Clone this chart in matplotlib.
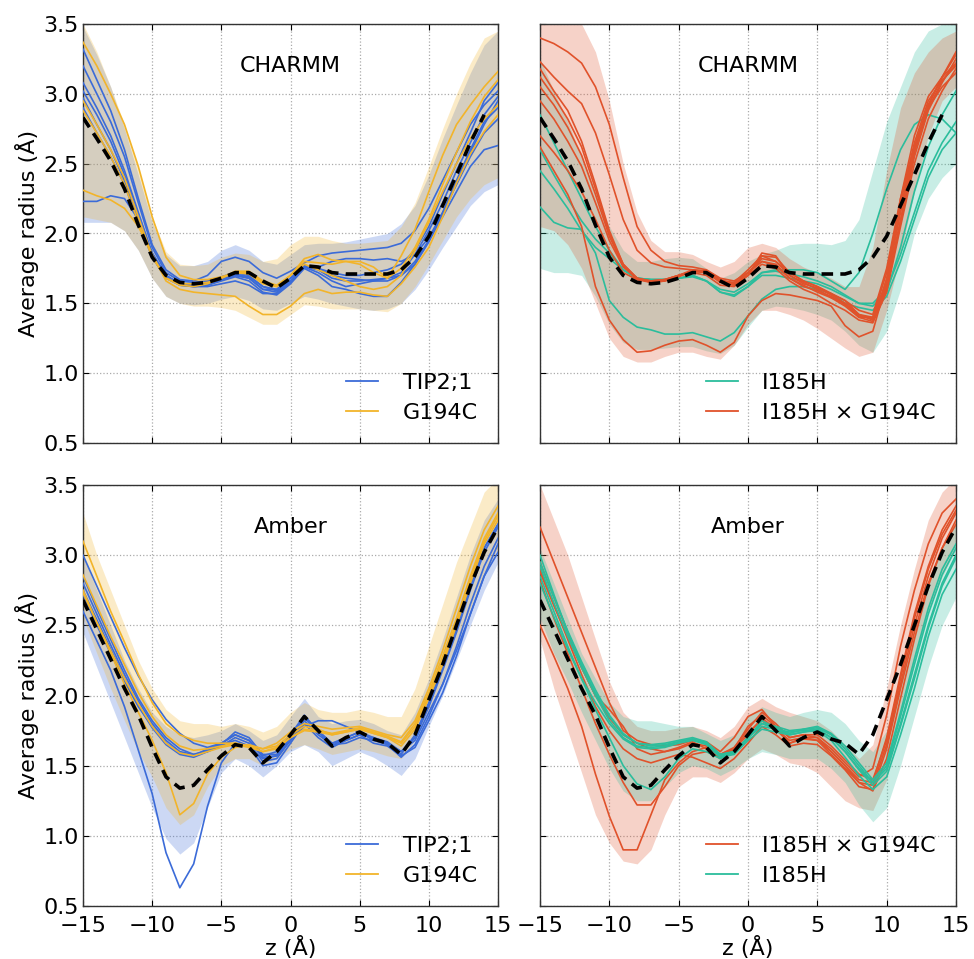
import numpy as np
import matplotlib
matplotlib.use('Agg')
import matplotlib.pyplot as plt
from matplotlib.lines import Line2D

nan = np.nan
Z = np.arange(-15, 16)
YTICKS = [0.5, 1.0, 1.5, 2.0, 2.5, 3.0, 3.5]
XTICKS = [-15, -10, -5, 0, 5, 10, 15]

BLUE, YELLOW, TEAL, ORANGE = '#3b6bd8', '#f2b42a', '#2bbd9c', '#e0522b'

# ---------------- CHARMM reference (dashed) ----------------
DASH_TOP = [2.83, 2.68, 2.52, 2.32, 2.06, 1.83, 1.70, 1.65, 1.64, 1.65,
            1.68, 1.72, 1.72, 1.66, 1.61, 1.68,
            1.77, 1.76, 1.72, 1.71, 1.71, 1.71, 1.71, 1.74, 1.83, 1.98,
            2.20, 2.42, 2.65, 2.85, nan]

# ---------------- top-left: TIP2;1 (blue), G194C (yellow) ----------------
TL_B1 = [3.32, 3.10, 2.88, 2.60, 2.25, 1.92, 1.74, 1.67, 1.66, 1.70, 1.80, 1.83, 1.80, 1.72, 1.68, 1.73,
         1.79, 1.84, 1.86, 1.87, 1.88, 1.89, 1.90, 1.93, 2.02, 2.18, 2.38, 2.58, 2.78, 2.92, 3.02]
TL_B2 = [3.20, 3.00, 2.80, 2.55, 2.22, 1.90, 1.72, 1.66, 1.65, 1.66, 1.69, 1.72, 1.70, 1.62, 1.60, 1.68,
         1.76, 1.75, 1.72, 1.70, 1.70, 1.72, 1.74, 1.78, 1.88, 2.05, 2.28, 2.50, 2.72, 2.95, 3.08]
TL_B3 = [3.08, 2.90, 2.70, 2.45, 2.15, 1.86, 1.70, 1.64, 1.63, 1.64, 1.67, 1.70, 1.68, 1.60, 1.58, 1.66,
         1.76, 1.74, 1.68, 1.66, 1.66, 1.67, 1.68, 1.72, 1.85, 2.02, 2.22, 2.45, 2.65, 2.85, 2.98]
TL_B4 = [2.97, 2.78, 2.60, 2.38, 2.10, 1.84, 1.69, 1.63, 1.62, 1.63, 1.66, 1.69, 1.66, 1.58, 1.56, 1.64,
         1.75, 1.70, 1.62, 1.60, 1.57, 1.55, 1.55, 1.65, 1.78, 1.95, 2.15, 2.38, 2.60, 2.80, 2.90]
TL_B5 = [2.23, 2.23, 2.27, 2.25, 2.10, 1.86, 1.70, 1.64, 1.62, 1.63, 1.67, 1.70, 1.68, 1.60, 1.60, 1.68,
         1.77, 1.75, 1.70, 1.68, 1.67, 1.66, 1.66, 1.70, 1.80, 1.95, 2.12, 2.30, 2.48, 2.60, 2.63]
TL_B6 = [3.02, 2.85, 2.66, 2.42, 2.14, 1.85, 1.69, 1.64, 1.63, 1.65, 1.68, 1.71, 1.69, 1.62, 1.59, 1.66,
         1.77, 1.76, 1.80, 1.82, 1.82, 1.81, 1.82, 1.80, 1.85, 1.97, 2.15, 2.35, 2.55, 2.72, 2.82]
TL_B7 = [2.90, 2.72, 2.55, 2.35, 2.08, 1.83, 1.68, 1.63, 1.62, 1.62, 1.64, 1.66, 1.63, 1.57, 1.57, 1.65,
         1.76, 1.72, 1.66, 1.62, 1.64, 1.66, 1.68, 1.70, 1.78, 1.94, 2.14, 2.36, 2.58, 2.78, 2.95]
TL_Y1 = [3.37, 3.20, 3.00, 2.78, 2.48, 2.12, 1.83, 1.70, 1.67, 1.67, 1.69, 1.72, 1.71, 1.64, 1.62, 1.70,
         1.82, 1.85, 1.81, 1.80, 1.80, 1.76, 1.68, 1.84, 2.03, 2.30, 2.56, 2.78, 2.92, 3.05, 3.16]
TL_Y2 = [2.31, 2.27, 2.24, 2.18, 2.05, 1.85, 1.66, 1.60, 1.58, 1.57, 1.56, 1.55, 1.48, 1.42, 1.42, 1.48,
         1.57, 1.60, 1.57, 1.58, 1.58, 1.56, 1.55, 1.64, 1.76, 1.90, 2.12, 2.36, 2.57, 2.73, 2.85]
TL_Y3 = [2.95, 2.78, 2.60, 2.40, 2.12, 1.84, 1.68, 1.63, 1.62, 1.64, 1.68, 1.72, 1.72, 1.65, 1.62, 1.70,
         1.80, 1.79, 1.78, 1.80, 1.78, 1.72, 1.68, 1.75, 1.90, 2.10, 2.35, 2.58, 2.80, 2.98, 3.10]
TL_Y4 = [2.88, 2.72, 2.55, 2.35, 2.08, 1.83, 1.68, 1.64, 1.64, 1.65, 1.68, 1.73, 1.73, 1.66, 1.63, 1.70,
         1.78, 1.74, 1.70, 1.66, 1.62, 1.60, 1.62, 1.70, 1.88, 2.08, 2.30, 2.50, 2.68, 2.82, 2.92]
TL_BLU_LO = [2.08, 2.08, 2.08, 2.02, 1.88, 1.68, 1.55, 1.50, 1.49, 1.50, 1.53, 1.55, 1.52, 1.46, 1.45, 1.50,
             1.55, 1.53, 1.50, 1.48, 1.46, 1.45, 1.46, 1.50, 1.60, 1.74, 1.90, 2.05, 2.20, 2.30, 2.35]
TL_BLU_HI = [3.48, 3.28, 3.05, 2.75, 2.42, 2.08, 1.85, 1.77, 1.77, 1.80, 1.88, 1.92, 1.88, 1.80, 1.78, 1.85,
             1.92, 1.93, 1.93, 1.94, 1.96, 1.98, 2.00, 2.07, 2.20, 2.42, 2.68, 2.92, 3.15, 3.35, 3.45]
TL_YEL_LO = [2.12, 2.10, 2.08, 2.02, 1.88, 1.68, 1.55, 1.50, 1.48, 1.48, 1.47, 1.45, 1.40, 1.35, 1.35, 1.42,
             1.49, 1.48, 1.46, 1.46, 1.46, 1.45, 1.44, 1.50, 1.62, 1.78, 1.95, 2.12, 2.25, 2.35, 2.40]
TL_YEL_HI = [3.50, 3.30, 3.05, 2.78, 2.47, 2.12, 1.87, 1.78, 1.77, 1.78, 1.83, 1.86, 1.85, 1.80, 1.82, 1.92,
             1.98, 1.98, 1.95, 1.93, 1.93, 1.94, 1.95, 2.05, 2.22, 2.48, 2.75, 3.00, 3.22, 3.40, 3.45]

# ---------------- top-right: I185H (teal), I185H x G194C (orange) ----------------
TR_O1 = [3.40, 3.36, 3.30, 3.22, 3.05, 2.78, 2.40, 2.05, 1.88, 1.80, 1.77, 1.76, 1.74, 1.68, 1.66, 1.72,
         1.82, 1.80, 1.72, 1.66, 1.62, 1.57, 1.52, 1.45, 1.42, 1.75, 2.25, 2.70, 2.98, 3.12, 3.22]
TR_O2 = [3.23, 3.12, 3.02, 2.93, 2.72, 2.42, 2.10, 1.88, 1.79, 1.76, 1.75, 1.74, 1.73, 1.67, 1.64, 1.70,
         1.84, 1.83, 1.72, 1.66, 1.62, 1.57, 1.52, 1.42, 1.40, 1.72, 2.22, 2.65, 2.95, 3.10, 3.20]
TR_O3 = [3.18, 3.02, 2.88, 2.66, 2.35, 2.02, 1.78, 1.68, 1.65, 1.66, 1.70, 1.73, 1.73, 1.66, 1.63, 1.70,
         1.86, 1.84, 1.70, 1.65, 1.60, 1.54, 1.48, 1.40, 1.40, 1.65, 2.15, 2.60, 2.92, 3.12, 3.28]
TR_O4 = [2.62, 2.45, 2.28, 2.05, 1.62, 1.38, 1.24, 1.15, 1.16, 1.20, 1.23, 1.24, 1.20, 1.15, 1.22, 1.41,
         1.52, 1.57, 1.56, 1.54, 1.52, 1.48, 1.34, 1.26, 1.30, 1.65, 2.25, 2.62, 2.90, 3.09, 3.21]
TR_O5 = [3.12, 2.98, 2.82, 2.62, 2.32, 2.00, 1.78, 1.68, 1.66, 1.67, 1.70, 1.73, 1.72, 1.65, 1.63, 1.72,
         1.80, 1.78, 1.68, 1.63, 1.58, 1.54, 1.50, 1.42, 1.38, 1.60, 2.08, 2.55, 2.88, 3.08, 3.25]
TR_O6 = [2.95, 2.82, 2.66, 2.48, 2.22, 1.95, 1.76, 1.68, 1.66, 1.67, 1.70, 1.72, 1.70, 1.63, 1.62, 1.70,
         1.78, 1.75, 1.66, 1.60, 1.56, 1.50, 1.45, 1.38, 1.36, 1.58, 2.05, 2.50, 2.82, 3.02, 3.18]
TR_O7 = [3.05, 2.92, 2.76, 2.56, 2.28, 1.98, 1.77, 1.67, 1.65, 1.66, 1.69, 1.73, 1.72, 1.66, 1.65, 1.74,
         1.84, 1.80, 1.70, 1.64, 1.61, 1.56, 1.50, 1.40, 1.37, 1.68, 2.18, 2.62, 2.92, 3.12, 3.30]
TR_O8 = [2.70, 2.58, 2.45, 2.30, 2.10, 1.88, 1.72, 1.67, 1.66, 1.67, 1.70, 1.74, 1.73, 1.66, 1.64, 1.72,
         1.80, 1.77, 1.68, 1.62, 1.59, 1.55, 1.49, 1.41, 1.39, 1.62, 2.10, 2.58, 2.90, 3.05, 3.15]
TR_T1 = [2.60, 2.42, 2.25, 2.09, 1.96, 1.86, 1.74, 1.68, 1.67, 1.67, 1.68, 1.70, 1.66, 1.58, 1.56, 1.62,
         1.72, 1.73, 1.71, 1.69, 1.66, 1.62, 1.56, 1.50, 1.50, 1.60, 1.85, 2.15, 2.45, 2.65, 2.80]
TR_T2 = [2.85, 2.65, 2.45, 2.25, 2.05, 1.88, 1.74, 1.68, 1.67, 1.67, 1.68, 1.70, 1.66, 1.60, 1.58, 1.64,
         1.72, 1.74, 1.74, 1.74, 1.72, 1.66, 1.60, 1.72, 2.00, 2.32, 2.60, 2.78, 2.85, 2.82, 2.72]
TR_T3 = [2.45, 2.32, 2.18, 2.02, 1.90, 1.82, 1.74, 1.68, 1.67, 1.67, 1.68, 1.69, 1.66, 1.58, 1.55, 1.62,
         1.70, 1.70, 1.68, 1.66, 1.64, 1.60, 1.55, 1.50, 1.48, 1.58, 1.90, 2.30, 2.62, 2.85, 3.02]
TR_T4 = [2.19, 2.08, 2.04, 2.03, 1.86, 1.52, 1.40, 1.33, 1.31, 1.28, 1.28, 1.29, 1.26, 1.23, 1.29, 1.41,
         1.53, 1.60, 1.62, 1.62, 1.60, 1.57, 1.50, 1.47, 1.45, 1.55, 1.80, 2.10, 2.40, 2.60, 2.72]
TR_ORA_HI = [3.50, 3.50, 3.50, 3.50, 3.30, 2.95, 2.50, 2.15, 1.95, 1.87, 1.87, 1.85, 1.80, 1.76, 1.80, 1.90,
             1.93, 1.90, 1.82, 1.76, 1.72, 1.68, 1.62, 1.62, 1.90, 2.45, 2.90, 3.15, 3.30, 3.40, 3.45]
TR_ORA_LO = [2.05, 2.02, 1.92, 1.75, 1.50, 1.25, 1.12, 1.08, 1.08, 1.12, 1.15, 1.15, 1.12, 1.10, 1.20, 1.35,
             1.45, 1.45, 1.42, 1.38, 1.32, 1.25, 1.18, 1.12, 1.15, 1.45, 1.85, 2.30, 2.70, 2.95, 3.05]
TR_TEA_HI = [3.25, 3.02, 2.80, 2.55, 2.30, 2.05, 1.88, 1.80, 1.80, 1.82, 1.83, 1.82, 1.75, 1.68, 1.72, 1.80,
             1.85, 1.88, 1.92, 1.93, 1.93, 1.92, 1.95, 2.10, 2.45, 2.80, 3.05, 3.30, 3.45, 3.50, 3.50]
TR_TEA_LO = [1.75, 1.72, 1.72, 1.70, 1.55, 1.35, 1.22, 1.17, 1.17, 1.18, 1.19, 1.19, 1.16, 1.14, 1.20, 1.33,
             1.45, 1.48, 1.47, 1.45, 1.42, 1.38, 1.30, 1.20, 1.15, 1.30, 1.60, 2.00, 2.25, 2.40, 2.50]

# ---------------- Amber reference (dashed) ----------------
DASH_BOT = [2.68, 2.47, 2.26, 2.05, 1.86, 1.63, 1.42, 1.34, 1.36, 1.47, 1.57, 1.65, 1.63, 1.52, 1.60, 1.72,
            1.85, 1.75, 1.64, 1.70, 1.74, 1.69, 1.66, 1.58, 1.72, 1.97, 2.22, 2.50, 2.78, 3.02, 3.20]

# ---------------- bottom-left: TIP2;1 (blue), G194C (yellow) ----------------
BL_B1 = [2.60, 2.39, 2.18, 1.92, 1.61, 1.30, 0.88, 0.63, 0.80, 1.21, 1.52, 1.66, 1.64, 1.55, 1.57, 1.68,
         1.78, 1.82, 1.82, 1.78, 1.74, 1.70, 1.66, 1.60, 1.68, 1.88, 2.08, 2.32, 2.58, 2.85, 3.02]
BL_B2 = [3.00, 2.78, 2.56, 2.34, 2.14, 1.97, 1.83, 1.73, 1.66, 1.63, 1.66, 1.72, 1.68, 1.57, 1.60, 1.72,
         1.86, 1.74, 1.64, 1.70, 1.74, 1.68, 1.66, 1.58, 1.72, 1.95, 2.20, 2.48, 2.78, 3.05, 3.22]
BL_B3 = [2.80, 2.58, 2.36, 2.15, 1.96, 1.80, 1.68, 1.60, 1.58, 1.60, 1.65, 1.74, 1.70, 1.58, 1.58, 1.70,
         1.84, 1.74, 1.66, 1.68, 1.72, 1.70, 1.67, 1.60, 1.70, 1.92, 2.18, 2.45, 2.75, 3.02, 3.20]
BL_B4 = [2.75, 2.54, 2.33, 2.12, 1.93, 1.77, 1.65, 1.58, 1.56, 1.60, 1.64, 1.70, 1.66, 1.53, 1.55, 1.68,
         1.82, 1.72, 1.65, 1.66, 1.70, 1.68, 1.65, 1.56, 1.65, 1.85, 2.08, 2.35, 2.65, 2.92, 3.12]
BL_B5 = [2.72, 2.50, 2.30, 2.10, 1.92, 1.78, 1.66, 1.59, 1.57, 1.62, 1.65, 1.68, 1.64, 1.50, 1.52, 1.66,
         1.80, 1.70, 1.63, 1.68, 1.72, 1.66, 1.64, 1.57, 1.63, 1.82, 2.02, 2.28, 2.58, 2.85, 3.08]
BL_B6 = [2.85, 2.62, 2.40, 2.18, 1.98, 1.82, 1.70, 1.62, 1.58, 1.61, 1.66, 1.72, 1.68, 1.56, 1.57, 1.70,
         1.85, 1.75, 1.66, 1.70, 1.74, 1.69, 1.66, 1.60, 1.70, 1.94, 2.20, 2.48, 2.78, 3.05, 3.22]
BL_Y1 = [2.75, 2.52, 2.30, 2.08, 1.88, 1.68, 1.45, 1.15, 1.23, 1.44, 1.56, 1.63, 1.65, 1.62, 1.64, 1.72,
         1.78, 1.76, 1.72, 1.74, 1.76, 1.73, 1.70, 1.66, 1.78, 2.00, 2.25, 2.52, 2.82, 3.10, 3.28]
BL_Y2 = [3.10, 2.85, 2.60, 2.38, 2.15, 1.95, 1.80, 1.72, 1.68, 1.66, 1.66, 1.66, 1.64, 1.62, 1.66, 1.74,
         1.80, 1.78, 1.76, 1.77, 1.78, 1.75, 1.72, 1.70, 1.82, 2.05, 2.32, 2.62, 2.92, 3.18, 3.35]
BL_Y3 = [2.86, 2.64, 2.42, 2.22, 2.02, 1.85, 1.72, 1.64, 1.61, 1.62, 1.64, 1.66, 1.64, 1.60, 1.62, 1.70,
         1.76, 1.75, 1.73, 1.75, 1.77, 1.74, 1.71, 1.67, 1.80, 2.02, 2.28, 2.55, 2.85, 3.12, 3.30]
BL_Y4 = [2.73, 2.52, 2.32, 2.12, 1.94, 1.78, 1.66, 1.59, 1.57, 1.60, 1.63, 1.65, 1.63, 1.60, 1.63, 1.70,
         1.75, 1.74, 1.72, 1.74, 1.76, 1.73, 1.70, 1.64, 1.76, 1.98, 2.22, 2.50, 2.80, 3.08, 3.25]
BL_BLU_HI = [3.00, 2.75, 2.50, 2.25, 2.05, 1.88, 1.78, 1.72, 1.70, 1.72, 1.75, 1.80, 1.75, 1.68, 1.72, 1.85,
             1.98, 1.85, 1.80, 1.82, 1.83, 1.80, 1.75, 1.72, 1.88, 2.12, 2.40, 2.70, 3.00, 3.25, 3.40]
BL_BLU_LO = [2.45, 2.20, 1.95, 1.70, 1.45, 1.20, 0.98, 0.87, 0.95, 1.20, 1.45, 1.55, 1.50, 1.42, 1.50, 1.60,
             1.65, 1.60, 1.50, 1.55, 1.60, 1.56, 1.50, 1.43, 1.55, 1.78, 2.00, 2.25, 2.50, 2.75, 2.95]
BL_YEL_HI = [3.30, 3.00, 2.75, 2.50, 2.25, 2.05, 1.90, 1.82, 1.80, 1.80, 1.78, 1.80, 1.78, 1.74, 1.78, 1.88,
             1.95, 1.90, 1.88, 1.88, 1.90, 1.88, 1.85, 1.85, 2.05, 2.35, 2.65, 2.95, 3.20, 3.45, 3.55]
BL_YEL_LO = [2.55, 2.30, 2.05, 1.82, 1.60, 1.42, 1.20, 1.08, 1.15, 1.35, 1.50, 1.55, 1.55, 1.50, 1.55, 1.62,
             1.65, 1.62, 1.58, 1.60, 1.62, 1.60, 1.57, 1.55, 1.68, 1.88, 2.10, 2.35, 2.62, 2.85, 3.05]

# ---------------- bottom-right: I185H x G194C (orange), I185H (teal) ----------------
BR_O1 = [2.50, 2.28, 2.05, 1.78, 1.44, 1.14, 0.90, 0.90, 1.15, 1.40, 1.52, 1.60, 1.63, 1.58, 1.62, 1.74,
         1.82, 1.76, 1.68, 1.70, 1.68, 1.58, 1.48, 1.38, 1.32, 1.55, 1.98, 2.40, 2.78, 3.05, 3.25]
BR_O2 = [2.82, 2.55, 2.30, 2.05, 1.80, 1.58, 1.38, 1.22, 1.22, 1.35, 1.50, 1.58, 1.60, 1.56, 1.62, 1.78,
         1.86, 1.78, 1.66, 1.70, 1.70, 1.60, 1.50, 1.38, 1.36, 1.65, 2.08, 2.50, 2.85, 3.12, 3.30]
BR_O3 = [3.20, 2.95, 2.70, 2.45, 2.20, 1.95, 1.75, 1.68, 1.65, 1.64, 1.65, 1.68, 1.67, 1.60, 1.70, 1.85,
         1.90, 1.78, 1.70, 1.72, 1.70, 1.62, 1.52, 1.42, 1.48, 1.86, 2.35, 2.75, 3.08, 3.30, 3.40]
BR_O4 = [2.95, 2.70, 2.45, 2.20, 2.00, 1.90, 1.78, 1.62, 1.58, 1.60, 1.63, 1.67, 1.62, 1.55, 1.62, 1.72,
         1.84, 1.76, 1.66, 1.69, 1.68, 1.60, 1.50, 1.40, 1.38, 1.70, 2.15, 2.58, 2.92, 3.18, 3.35]
BR_O5 = [2.90, 2.65, 2.40, 2.15, 1.92, 1.75, 1.62, 1.55, 1.52, 1.55, 1.58, 1.56, 1.52, 1.48, 1.55, 1.66,
         1.78, 1.72, 1.64, 1.66, 1.65, 1.57, 1.47, 1.35, 1.33, 1.62, 2.05, 2.45, 2.80, 3.05, 3.22]
BR_O6 = [2.88, 2.64, 2.42, 2.20, 2.00, 1.84, 1.72, 1.66, 1.62, 1.60, 1.62, 1.66, 1.64, 1.58, 1.63, 1.76,
         1.88, 1.80, 1.70, 1.72, 1.72, 1.64, 1.54, 1.44, 1.40, 1.68, 2.12, 2.55, 2.90, 3.15, 3.32]
BR_T1 = [2.85, 2.60, 2.35, 2.12, 1.90, 1.70, 1.50, 1.37, 1.33, 1.42, 1.55, 1.62, 1.60, 1.55, 1.60, 1.70,
         1.80, 1.76, 1.72, 1.74, 1.76, 1.70, 1.60, 1.48, 1.38, 1.48, 1.80, 2.15, 2.50, 2.80, 3.00]
BR_T2 = [3.00, 2.72, 2.45, 2.22, 2.02, 1.85, 1.72, 1.66, 1.65, 1.66, 1.68, 1.70, 1.67, 1.58, 1.60, 1.70,
         1.80, 1.78, 1.75, 1.76, 1.77, 1.72, 1.62, 1.50, 1.38, 1.50, 1.85, 2.22, 2.58, 2.86, 3.05]
BR_T3 = [2.92, 2.66, 2.42, 2.20, 2.00, 1.82, 1.70, 1.64, 1.63, 1.64, 1.67, 1.69, 1.66, 1.57, 1.59, 1.70,
         1.78, 1.76, 1.74, 1.75, 1.76, 1.70, 1.60, 1.47, 1.36, 1.46, 1.78, 2.12, 2.48, 2.78, 2.98]
BR_T4 = [2.80, 2.56, 2.33, 2.12, 1.95, 1.80, 1.69, 1.63, 1.62, 1.63, 1.66, 1.68, 1.65, 1.56, 1.58, 1.68,
         1.76, 1.74, 1.72, 1.74, 1.75, 1.68, 1.56, 1.43, 1.33, 1.42, 1.72, 2.05, 2.42, 2.72, 2.90]
BR_T5 = [2.95, 2.70, 2.46, 2.24, 2.04, 1.86, 1.73, 1.66, 1.64, 1.65, 1.67, 1.69, 1.66, 1.58, 1.60, 1.70,
         1.82, 1.77, 1.73, 1.76, 1.78, 1.73, 1.64, 1.52, 1.40, 1.52, 1.88, 2.26, 2.62, 2.90, 3.08]
BR_ORA_HI = [3.50, 3.25, 3.00, 2.70, 2.40, 2.10, 1.88, 1.78, 1.75, 1.75, 1.77, 1.78, 1.75, 1.70, 1.78, 1.92,
             1.98, 1.92, 1.88, 1.85, 1.82, 1.75, 1.65, 1.55, 1.65, 2.05, 2.50, 2.90, 3.25, 3.45, 3.55]
BR_ORA_LO = [2.40, 2.05, 1.75, 1.45, 1.15, 0.95, 0.82, 0.80, 0.90, 1.15, 1.35, 1.42, 1.42, 1.38, 1.45, 1.55,
             1.62, 1.58, 1.52, 1.50, 1.45, 1.35, 1.25, 1.20, 1.18, 1.40, 1.85, 2.25, 2.60, 2.85, 3.05]
BR_TEA_HI = [3.05, 2.80, 2.55, 2.30, 2.12, 1.95, 1.85, 1.82, 1.82, 1.80, 1.78, 1.78, 1.73, 1.68, 1.72, 1.85,
             1.92, 1.88, 1.85, 1.88, 1.90, 1.88, 1.80, 1.68, 1.60, 1.75, 2.10, 2.45, 2.80, 3.05, 3.25]
BR_TEA_LO = [2.55, 2.30, 2.10, 1.88, 1.68, 1.48, 1.32, 1.25, 1.25, 1.35, 1.45, 1.50, 1.48, 1.43, 1.48, 1.55,
             1.60, 1.58, 1.55, 1.55, 1.55, 1.48, 1.38, 1.22, 1.10, 1.20, 1.50, 1.85, 2.20, 2.50, 2.70]

FS = 16

fig = plt.figure(figsize=(9.74, 9.59), dpi=100)
W, H = 974.0, 959.0
ax_tl = fig.add_axes([83 / W, 1 - 443 / H, 415 / W, 419 / H])
ax_tr = fig.add_axes([540 / W, 1 - 443 / H, 416 / W, 419 / H])
ax_bl = fig.add_axes([83 / W, 1 - 906 / H, 415 / W, 421 / H])
ax_br = fig.add_axes([540 / W, 1 - 906 / H, 416 / W, 421 / H])


def draw(ax, groups, dashed, title, legend_items, left, bottom):
    for color, lines, lo, hi in groups:
        ax.fill_between(Z, lo, hi, color=color, alpha=0.26, lw=0, zorder=1)
    for color, lines, lo, hi in groups:
        for ln in lines:
            ax.plot(Z, ln, color=color, lw=1.2, zorder=3)
    ax.plot(Z, dashed, color='black', lw=2.6, dashes=(3.2, 2.0), zorder=5)
    ax.text(0, 3.2, title, ha='center', va='center', fontsize=FS)
    ax.set_xlim(-15, 15)
    ax.set_ylim(0.5, 3.5)
    ax.set_xticks(XTICKS)
    ax.set_yticks(YTICKS)
    ax.grid(True, linestyle=':', color='#aaaaaa', lw=0.9, zorder=0)
    ax.set_axisbelow(True)
    ax.tick_params(direction='in', length=4, top=True, right=True, labelsize=FS)
    ax.tick_params(axis='y', pad=3)
    ax.tick_params(axis='x', pad=7)
    for s in ax.spines.values():
        s.set_color('#333333')
        s.set_linewidth(1.0)
    if not left:
        ax.tick_params(labelleft=False)
    else:
        ax.set_ylabel('Average radius (Å)', fontsize=FS, labelpad=3)
    if not bottom:
        ax.tick_params(labelbottom=False)
    else:
        ax.set_xlabel('z (Å)', fontsize=FS, labelpad=0)
    handles = [Line2D([0], [0], color=c, lw=1.3) for c, _ in legend_items]
    labels = [l for _, l in legend_items]
    ax.legend(handles, labels, loc='lower right', frameon=False, fontsize=FS,
              handlelength=1.45, handletextpad=1.1, labelspacing=0.45,
              borderaxespad=0.5)


draw(ax_tl,
     [(BLUE, [TL_B1, TL_B2, TL_B3, TL_B4, TL_B5, TL_B6, TL_B7], TL_BLU_LO, TL_BLU_HI),
      (YELLOW, [TL_Y1, TL_Y2, TL_Y3, TL_Y4], TL_YEL_LO, TL_YEL_HI)],
     DASH_TOP, 'CHARMM', [(BLUE, 'TIP2;1'), (YELLOW, 'G194C')], True, False)
draw(ax_tr,
     [(TEAL, [TR_T1, TR_T2, TR_T3, TR_T4], TR_TEA_LO, TR_TEA_HI),
      (ORANGE, [TR_O1, TR_O2, TR_O3, TR_O4, TR_O5, TR_O6, TR_O7, TR_O8], TR_ORA_LO, TR_ORA_HI)],
     DASH_TOP, 'CHARMM', [(TEAL, 'I185H'), (ORANGE, 'I185H × G194C')], False, False)
draw(ax_bl,
     [(BLUE, [BL_B1, BL_B2, BL_B3, BL_B4, BL_B5, BL_B6], BL_BLU_LO, BL_BLU_HI),
      (YELLOW, [BL_Y1, BL_Y2, BL_Y3, BL_Y4], BL_YEL_LO, BL_YEL_HI)],
     DASH_BOT, 'Amber', [(BLUE, 'TIP2;1'), (YELLOW, 'G194C')], True, True)
draw(ax_br,
     [(ORANGE, [BR_O1, BR_O2, BR_O3, BR_O4, BR_O5, BR_O6], BR_ORA_LO, BR_ORA_HI),
      (TEAL, [BR_T1, BR_T2, BR_T3, BR_T4, BR_T5], BR_TEA_LO, BR_TEA_HI)],
     DASH_BOT, 'Amber', [(ORANGE, 'I185H × G194C'), (TEAL, 'I185H')], False, True)

fig.savefig('out.png', dpi=100)
